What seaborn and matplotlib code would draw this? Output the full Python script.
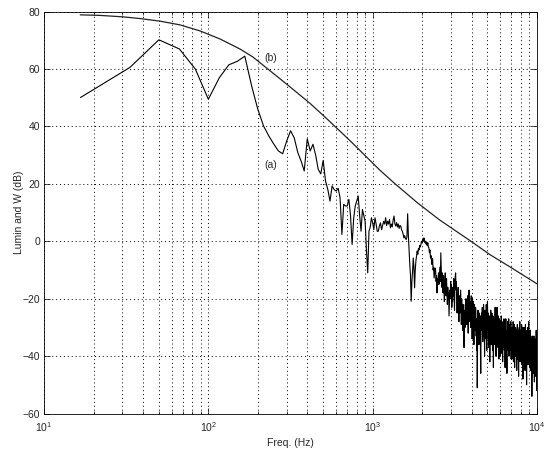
import numpy as np
import pandas as pd
import matplotlib
matplotlib.use("Agg")
import matplotlib.pyplot as plt
import seaborn as sns
from matplotlib.ticker import LogLocator, NullFormatter

# FFT bin spacing of the spectrum (Hz)
bin_hz = 16.667

# (a) spectrum, one value per bin, bins 1..152 (up to ~2.5 kHz)
spectrum_low_db = [
    50.1, 60.6, 70.2, 67.0, 60.0, 49.5, 57.0, 61.5, 62.7, 64.5,
    54.2, 46.0, 40.2, 36.7, 33.9, 31.5, 30.5, 35.0, 38.5, 36.0,
    31.0, 28.0, 24.5, 35.7, 31.5, 33.8, 30.0, 25.0, 23.5, 28.2,
    21.0, 18.1, 14.0, 19.3, 18.0, 17.5, 18.5, 15.2, 2.4, 12.9,
    12.3, 12.3, 14.6, 9.0, -1.1, 8.0, 12.3, 14.0, 15.8, 9.0,
    3.5, 11.1, 9.0, 7.0, -3.0, -11.0, 3.5, 5.0, 8.2, 6.5,
    4.1, 8.2, 6.0, 3.5, 3.5, 5.5, 6.4, 4.0, 5.5, 7.0,
    6.0, 8.2, 5.5, 7.0, 6.0, 7.6, 4.7, 6.0, 5.0, 7.5,
    8.8, 6.0, 5.3, 6.5, 5.0, 6.0, 4.5, 5.5, 5.3, 4.0,
    3.5, 2.5, 1.2, 2.0, 1.0, 0.6, 1.5, 9.6, 2.0, -3.0,
    -8.1, -12.0, -20.9, -14.0, -10.4, -5.8, -9.0, -16.2, -10.0, -6.9,
    -5.0, -3.4, -4.5, -2.5, -3.0, -1.5, -2.0, -1.1, 0.0, -0.5,
    0.6, 0.0, 1.2, 0.5, -0.5, 0.0, -1.0, -0.5, -1.5, -0.5,
    -2.0, -2.3, -4.0, -3.0, -5.8, -5.0, -7.0, -8.1, -6.0, -10.0,
    -9.0, -12.8, -11.0, -9.3, -10.0, -14.0, -12.0, -18.0, -13.0, -15.0,
    -11.0, -15.0,
]

# (a) spectrum, bins 153..600 (~2.5 kHz to 10 kHz)
spectrum_high_db = [
    -12, -9, -14, -4, -10, -16, -11, -13, -18, -12, -16, -21, -14, -11, -15, -19,
    -13, -17, -22, -16, -20, -18, -26, -21, -17, -20, -14, -18, -15, -23, -17, -21,
    -16, -19, -13, -18, -24, -15, -12, -11, -17, -14, -20, -25, -18, -22, -16, -24,
    -28, -22, -19, -25, -21, -17, -24, -29, -20, -26, -23, -31, -22, -27, -33, -37,
    -28, -24, -30, -22, -27, -20, -25, -29, -21, -26, -19, -24, -32, -23, -18, -17,
    -22, -28, -21, -25, -30, -23, -19, -26, -22, -34, -20, -24, -29, -21, -27, -36,
    -25, -22, -28, -24, -31, -23, -26, -33, -27, -38, -30, -51, -35, -27, -24, -32,
    -29, -36, -31, -25, -28, -34, -26, -39, -46, -33, -28, -25, -31, -27, -23, -30,
    -35, -26, -29, -22, -27, -33, -28, -40, -31, -24, -29, -26, -34, -30, -22, -27,
    -38, -29, -25, -21, -27, -31, -25, -34, -29, -37, -31, -26, -30, -42, -33, -35,
    -28, -24, -31, -27, -36, -30, -25, -33, -29, -38, -31, -26, -35, -44, -32, -28,
    -33, -27, -30, -36, -29, -23, -31, -27, -34, -40, -30, -26, -32, -24, -23, -29,
    -35, -28, -33, -37, -30, -26, -34, -41, -31, -27, -36, -29, -33, -38, -40, -32,
    -28, -35, -30, -26, -33, -39, -31, -36, -29, -34, -42, -33, -28, -31, -37, -30,
    -35, -27, -32, -38, -34, -29, -36, -44, -35, -30, -33, -27, -31, -37, -32, -39,
    -41, -46, -36, -31, -34, -28, -33, -38, -30, -35, -32, -27, -34, -40, -33, -29,
    -36, -31, -38, -34, -30, -37, -33, -28, -35, -41, -34, -31, -36, -33, -41, -35,
    -30, -37, -32, -39, -34, -28, -35, -42, -36, -31, -38, -33, -29, -36, -44, -37,
    -32, -35, -40, -34, -30, -37, -33, -39, -35, -31, -38, -45, -36, -32, -34, -29,
    -37, -41, -35, -31, -38, -34, -40, -47, -37, -33, -36, -30, -35, -39, -33, -28,
    -36, -42, -35, -31, -37, -34, -40, -36, -32, -38, -35, -29, -36, -43, -37, -33,
    -39, -34, -30, -37, -48, -38, -33, -36, -31, -38, -42, -35, -30, -37, -33, -40,
    -36, -32, -39, -45, -37, -34, -29, -36, -41, -35, -31, -38, -34, -40, -50, -39,
    -35, -32, -37, -33, -40, -36, -30, -38, -43, -36, -32, -39, -35, -29, -28, -36,
    -41, -37, -33, -39, -44, -38, -34, -40, -36, -31, -39, -45, -37, -33, -41, -36,
    -42, -38, -34, -40, -47, -44, -54, -41, -36, -39, -33, -38, -44, -37, -41, -35,
    -39, -46, -40, -36, -42, -38, -33, -40, -37, -43, -49, -41, -37, -34, -39, -44,
    -38, -35, -41, -47, -40, -36, -42, -38, -34, -31, -39, -45, -40, -52, -43, -38,
]

# (b) smooth weighting curve
weight_hz = [16.6, 21.9, 30.2, 38.4, 50.8, 67.2, 88.9, 117.7, 155.7, 186.8, 226, 305,
             415, 524, 727, 1106, 1365, 1884, 2563, 3901, 5164, 7027, 10000]
weight_db = [78.9, 78.7, 78.2, 77.6, 76.7, 75.4, 73.3, 70.5, 67.0, 64.2, 60.4, 54.4,
             48.1, 42.8, 35.1, 24.8, 20.1, 13.3, 7.4, 0.3, -4.6, -9.3, -14.8]

spectrum_db = spectrum_low_db + spectrum_high_db
spec = pd.DataFrame({'freq': bin_hz * np.arange(1, len(spectrum_db) + 1),
                     'db': spectrum_db})
weight = pd.DataFrame({'freq': weight_hz, 'db': weight_db})

sns.set_style('ticks')
plt.rcParams['font.family'] = ['Liberation Sans', 'DejaVu Sans']
plt.rcParams['font.size'] = 7.5

fig = plt.figure(figsize=(5.44, 4.49), dpi=100)
ax = fig.add_axes([0.081, 0.079, 0.906, 0.895])

sns.lineplot(data=spec, x='freq', y='db', color='k', lw=0.8,
             estimator=None, sort=False, ax=ax)
sns.lineplot(data=weight, x='freq', y='db', color='#222222', lw=0.9,
             estimator=None, sort=False, ax=ax)

ax.set_xscale('log')
ax.set_xlim(10, 1e4)
ax.set_ylim(-60, 80)
ax.set_yticks(np.arange(-60, 81, 20))
ax.xaxis.set_major_locator(LogLocator(base=10, numticks=10))
ax.xaxis.set_minor_locator(LogLocator(base=10, subs=np.arange(2, 10), numticks=40))
ax.xaxis.set_minor_formatter(NullFormatter())

dots = (0, (1, 3))
ax.grid(True, which='both', axis='x', color='k', lw=0.7, ls=dots)
ax.grid(True, which='major', axis='y', color='k', lw=0.7, ls=dots)

ax.tick_params(which='both', direction='in', top=True, right=True,
               labelsize=7.5, color='k', width=0.5)
ax.tick_params(axis='x', pad=5)
ax.tick_params(axis='y', pad=3)
ax.tick_params(which='major', length=4)
ax.tick_params(which='minor', length=2)
for s in ax.spines.values():
    s.set_linewidth(0.6)
    s.set_color('k')

ax.text(240, 63.8, '(b)', ha='center', va='center', fontsize=7.5)
ax.text(240, 26.5, '(a)', ha='center', va='center', fontsize=7.5)

ax.set_xlabel('Freq. (Hz)', fontsize=7.5, labelpad=3)
ax.set_ylabel('Lumin and W (dB)', fontsize=7.5, labelpad=-1)

fig.savefig('out.png', dpi=100, facecolor='white')
